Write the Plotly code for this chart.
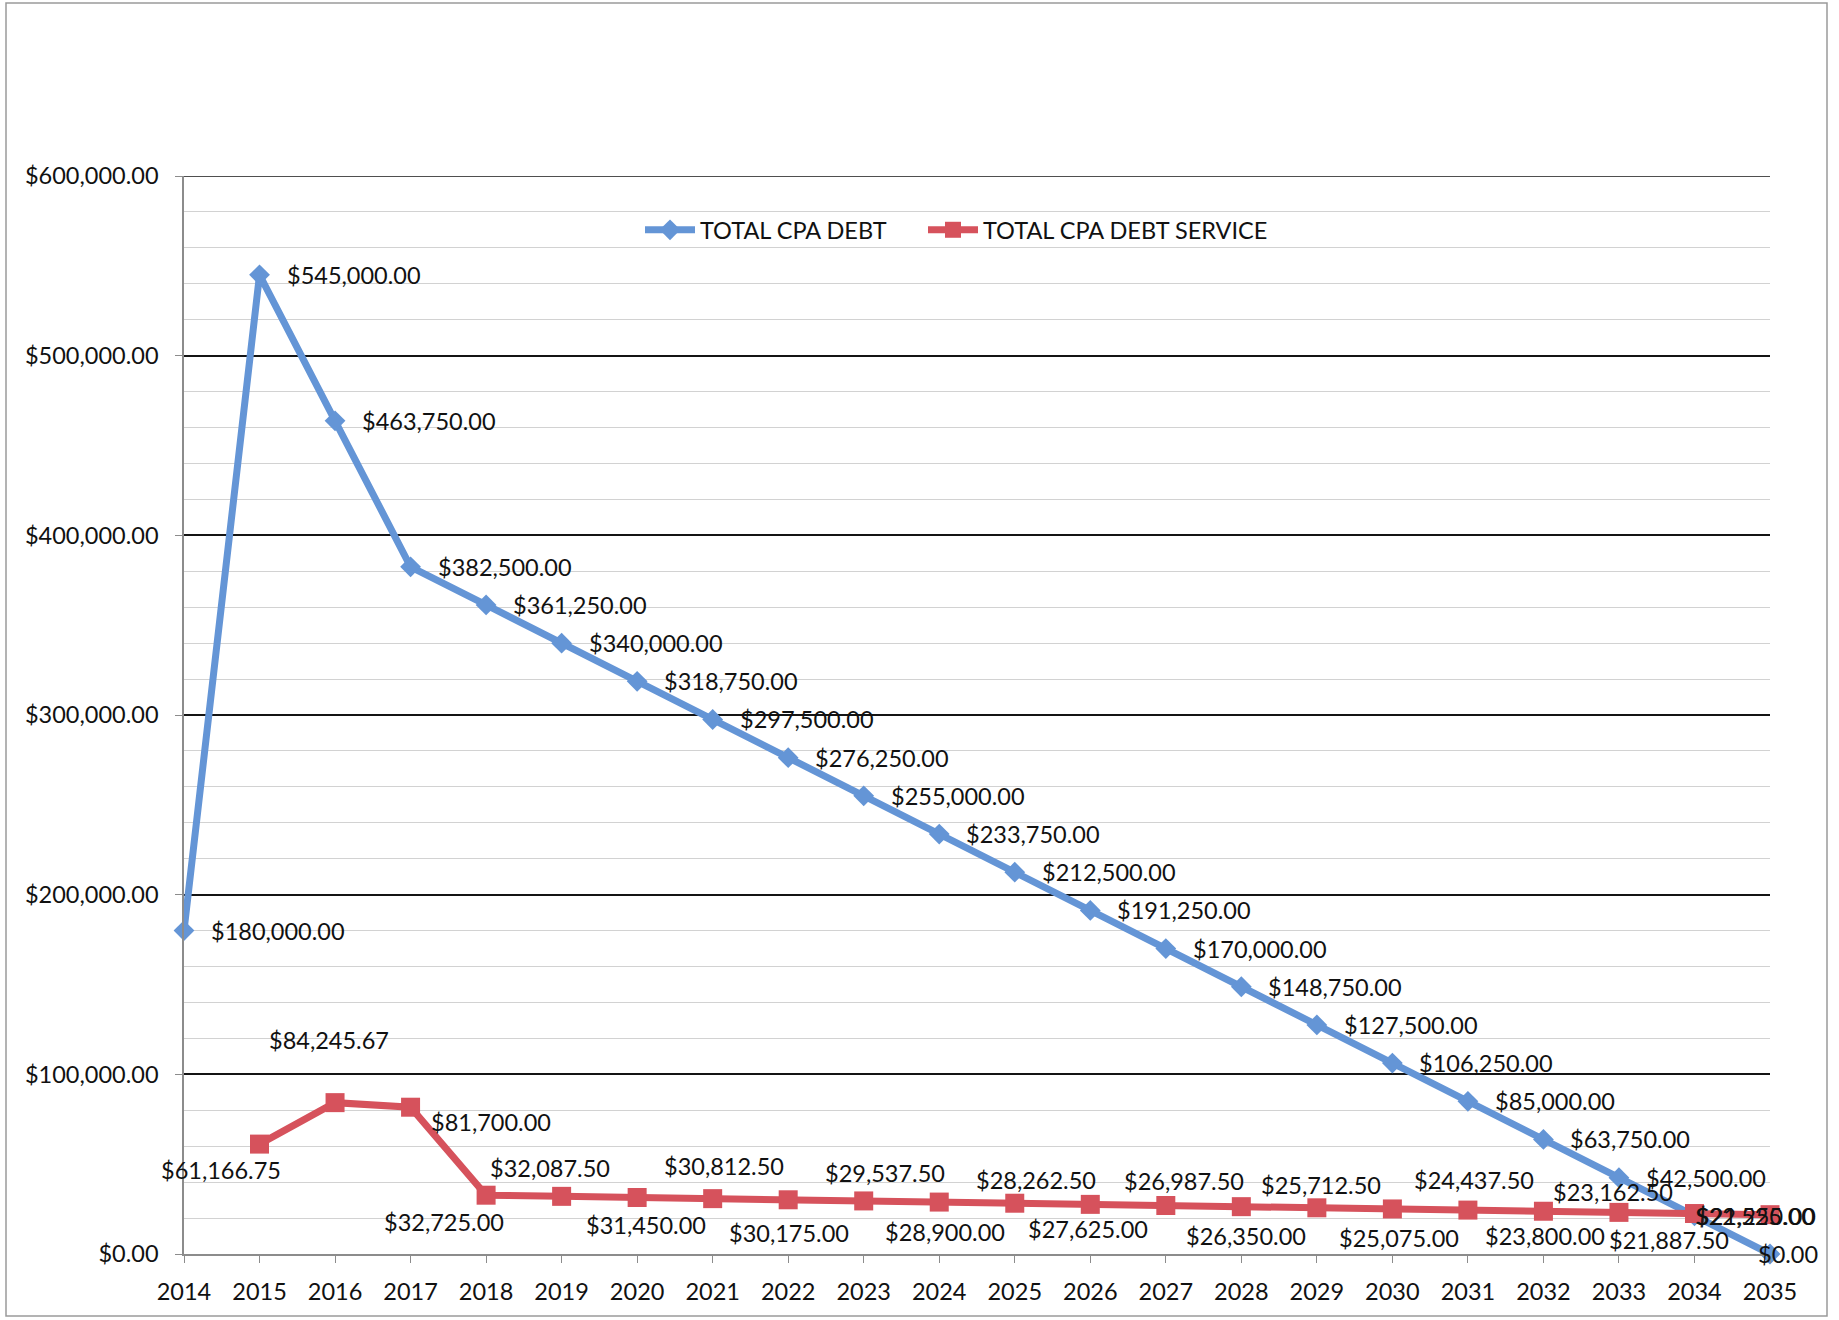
import plotly.graph_objects as go

# ---- data -------------------------------------------------------------
years = list(range(2014, 2036))

debt_years = years
total_cpa_debt = [
    180000.00, 545000.00, 463750.00, 382500.00, 361250.00, 340000.00,
    318750.00, 297500.00, 276250.00, 255000.00, 233750.00, 212500.00,
    191250.00, 170000.00, 148750.00, 127500.00, 106250.00, 85000.00,
    63750.00, 42500.00, 21250.00, 0.00,
]

service_years = list(range(2015, 2036))
total_cpa_debt_service = [
    61166.75, 84245.67, 81700.00, 32725.00, 32087.50, 31450.00, 30812.50,
    30175.00, 29537.50, 28900.00, 28262.50, 27625.00, 26987.50, 26350.00,
    25712.50, 25075.00, 24437.50, 23800.00, 23162.50, 22525.00, 21887.50,
]

y_ticks = [0, 100000, 200000, 300000, 400000, 500000, 600000]

# ---- label placement (pixel offsets from each marker) ------------------
debt_label_dx = [25] * (len(debt_years) - 2) + [0, -14]
service_label_offsets = [
    (-39, -26), (-6, 63), (80, -15), (-42, -27), (-12, 28), (9, -28),
    (11, 33), (1, -33), (21, 28), (6, -30), (21, 23), (-2, -25),
    (18, 25), (5, -29), (4, 23), (7, -29), (6, 30), (2, -25),
    (-6, 20), (61, -2), (-101, -25),
]

BLUE = "#6495D6"
RED = "#D6525C"
FONT = "Lato, 'Open Sans', sans-serif"
TXT = "#111111"
FS = 23.5

fig = go.Figure()

fig.add_trace(go.Scatter(
    x=debt_years, y=total_cpa_debt, name="TOTAL CPA DEBT",
    mode="lines+markers",
    line=dict(color=BLUE, width=7),
    marker=dict(symbol="diamond", size=16, color=BLUE),
    cliponaxis=False, legend="legend",
))
fig.add_trace(go.Scatter(
    x=service_years, y=total_cpa_debt_service, name="TOTAL CPA DEBT SERVICE",
    mode="lines+markers",
    line=dict(color=RED, width=7),
    marker=dict(symbol="square", size=19, color=RED),
    cliponaxis=False, legend="legend2",
))

annotations = []
for x, v, dx in zip(debt_years, total_cpa_debt, debt_label_dx):
    annotations.append(dict(
        x=x, y=v, xref="x", yref="y", text=f"${v:,.2f}", showarrow=False,
        xanchor="left", yanchor="middle", xshift=dx,
        font=dict(family=FONT, size=FS, color=TXT),
    ))
for x, v, (dx, dy) in zip(service_years, total_cpa_debt_service, service_label_offsets):
    annotations.append(dict(
        x=x, y=v, xref="x", yref="y", text=f"${v:,.2f}", showarrow=False,
        xanchor="center", yanchor="middle", xshift=dx, yshift=dy,
        font=dict(family=FONT, size=FS, color=TXT),
    ))

# plot-area pixel box and helpers for paper coordinates
L, R, T, B = 184, 1770, 176, 1254
W, H = R - L, B - T
def px_x(p):
    return (p - L) / W
def px_y(p):
    return (B - p) / H

shapes = [
    # outer chart border
    dict(type="rect", xref="paper", yref="paper",
         x0=px_x(6), x1=px_x(1827), y0=px_y(1316), y1=px_y(3),
         line=dict(color="#9a9a9a", width=1.5), fillcolor="rgba(0,0,0,0)",
         layer="below"),
    # top major gridline at the end of the value range
    dict(type="line", xref="paper", yref="y", x0=0, x1=1,
         y0=y_ticks[-1], y1=y_ticks[-1],
         line=dict(color="#141414", width=1.6), layer="below"),
]

legend_style = dict(
    orientation="h", y=px_y(230), xanchor="left", yanchor="middle",
    font=dict(family=FONT, size=FS, color=TXT),
    bgcolor="rgba(0,0,0,0)", itemwidth=50,
)

fig.update_layout(
    width=1839, height=1320,
    margin=dict(l=L, r=1839 - R, t=T, b=1320 - B),
    paper_bgcolor="white", plot_bgcolor="white",
    font=dict(family=FONT, size=FS, color=TXT),
    showlegend=True,
    legend=dict(x=px_x(640), **legend_style),
    legend2=dict(x=px_x(923), **legend_style),
    annotations=annotations,
    shapes=shapes,
)

fig.update_xaxes(
    range=[2014, 2035], tickmode="array", tickvals=years,
    ticktext=[str(y) for y in years],
    showgrid=False, zeroline=False,
    showline=True, linecolor="#8c8c8c", linewidth=1.5,
    ticks="outside", ticklen=7, tickcolor="#8c8c8c", tickwidth=1.2,
    ticklabelstandoff=9,
    tickfont=dict(family=FONT, size=FS, color=TXT),
)
fig.update_yaxes(
    range=[0, 600000], tickmode="array", tickvals=y_ticks,
    ticktext=[f"${v:,.2f}" for v in y_ticks],
    showgrid=True, gridcolor="#141414", gridwidth=1.6,
    zeroline=False,
    showline=True, linecolor="#8c8c8c", linewidth=1.5,
    ticks="outside", ticklen=7, tickcolor="#8c8c8c", tickwidth=1.2,
    ticklabelstandoff=12,
    tickfont=dict(family=FONT, size=FS, color=TXT),
    minor=dict(dtick=20000, tick0=0, showgrid=True, gridcolor="#d2d2d2", gridwidth=1),
)

fig.write_html("out.html")
